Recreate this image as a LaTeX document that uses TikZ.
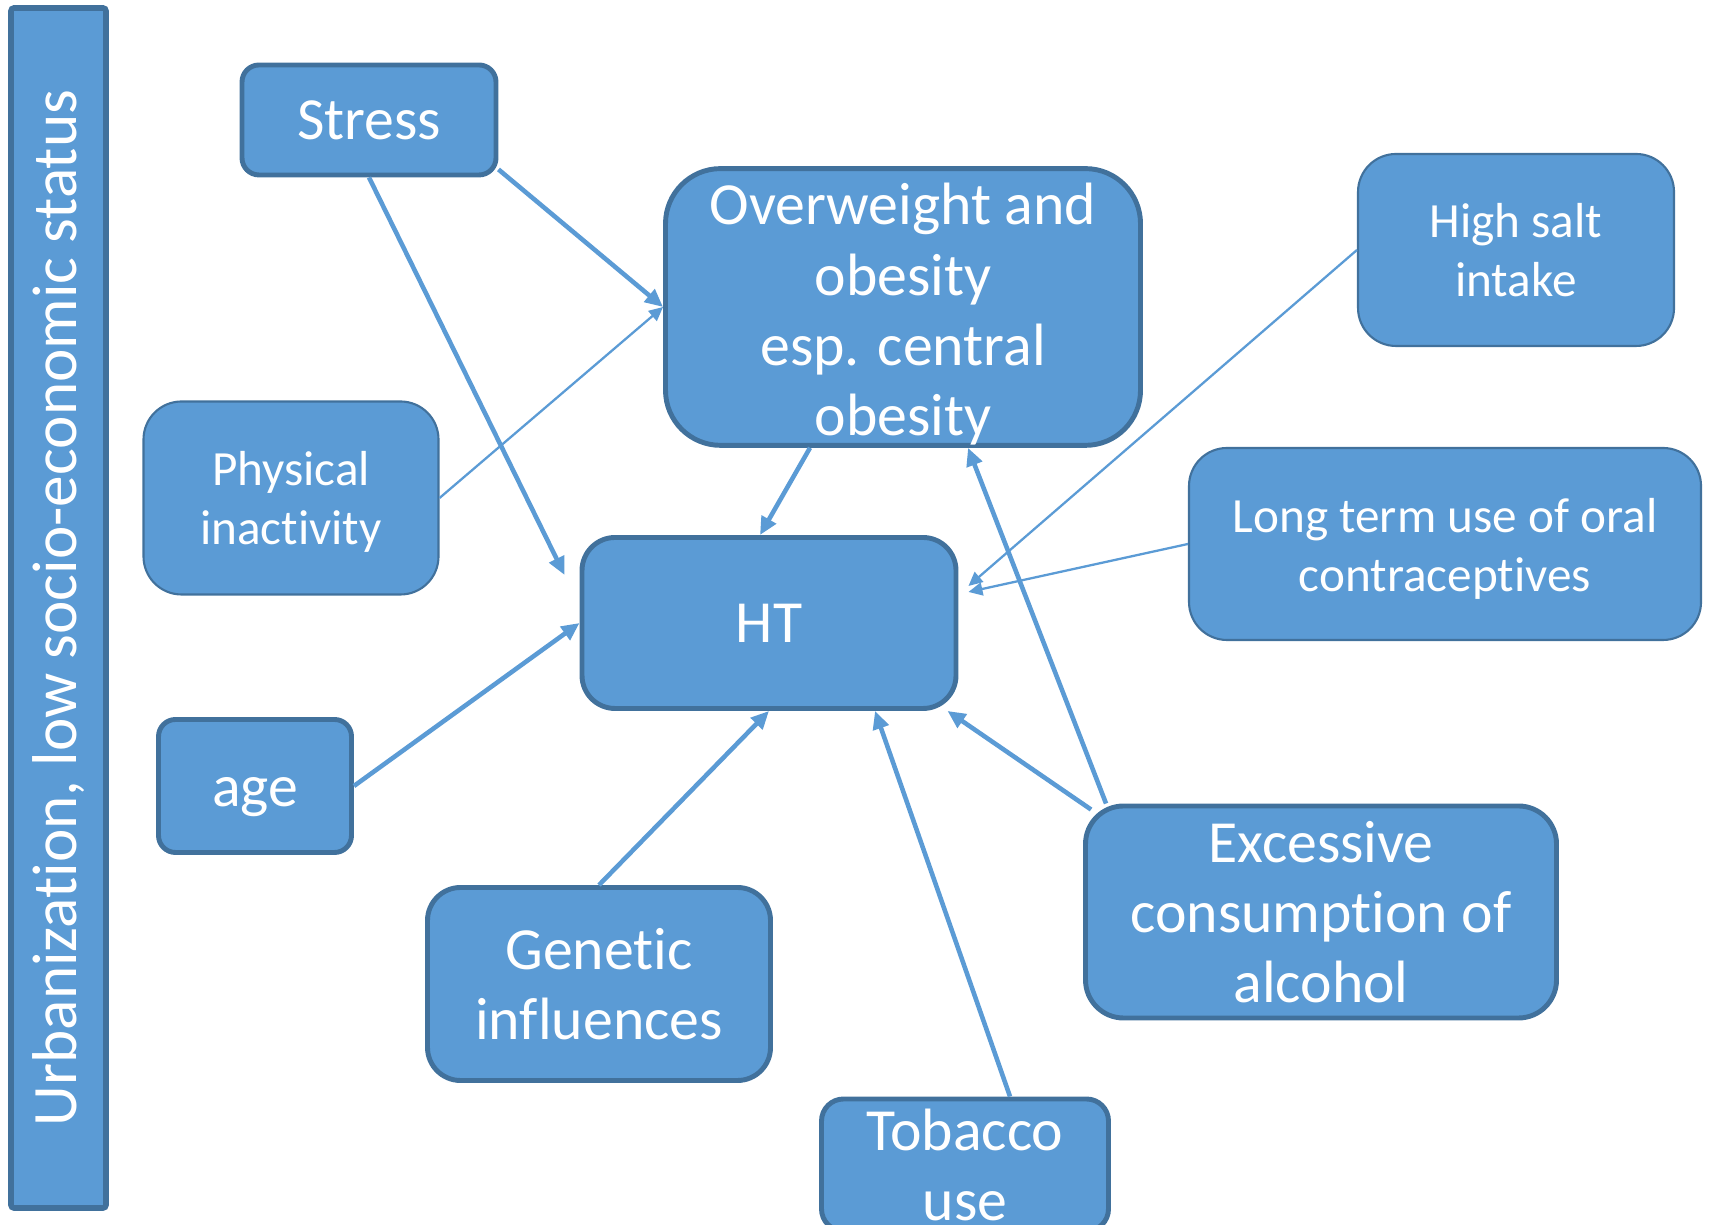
\documentclass[tikz,border=0pt]{standalone}
\usepackage{fontspec}
\setmainfont{Carlito}[RawFeature={-liga;-clig;-dlig;-calt;-rlig}]
\usetikzlibrary{arrows.meta,calc}
\definecolor{boxfill}{HTML}{5B9BD5}
\definecolor{boxline}{HTML}{41719C}
\begin{document}
\begin{tikzpicture}[
 box/.style={draw=boxline, fill=boxfill, line width=1.4pt, text=white, align=center, inner sep=0pt, font=\fontsize{17}{20}\selectfont},
 thinbox/.style={box, line width=0.6pt, font=\fontsize{14}{17}\selectfont},
 link/.style={draw=boxfill, line width=1.3pt, -{Triangle[length=0.18cm,width=0.16cm]}},
 thinlink/.style={draw=boxfill, line width=0.65pt, -{Triangle[length=0.14cm,width=0.13cm]}}
]
 \useasboundingbox (0,0) rectangle (17.1,12.25);

 \node[box, line width=1.6pt, rotate=90, rounded corners=0.03cm, minimum width=12.0cm, minimum height=0.95cm, font=\fontsize{18}{21}\selectfont] (urban) at (0.585,6.17) {Urbanization, low socio-economic status};

 \node[box, minimum width=2.54cm, minimum height=1.10cm, rounded corners=0.17cm] (stress) at (3.69,11.05) {Stress};
 \node[box, minimum width=4.75cm, minimum height=2.76cm, rounded corners=0.55cm] (ow) at (9.03,9.18) {\rule{0pt}{16pt}Overweight and\\obesity\\esp. central\\obesity};
 \node[thinbox, minimum width=3.16cm, minimum height=1.92cm, rounded corners=0.38cm] (salt) at (15.16,9.75) {High salt\\intake};
 \node[thinbox, minimum width=2.95cm, minimum height=1.93cm, rounded corners=0.38cm] (phys) at (2.91,7.27) {\rule{0pt}{12pt}Physical\\inactivity};
 \node[thinbox, minimum width=5.12cm, minimum height=1.92cm, rounded corners=0.38cm] (long) at (14.45,6.81) {\rule{0pt}{12.5pt}Long term use of oral\\contraceptives};
 \node[box, minimum width=3.74cm, minimum height=1.71cm, rounded corners=0.33cm] (ht) at (7.69,6.02) {HT};
 \node[box, minimum width=1.93cm, minimum height=1.33cm, rounded corners=0.17cm, text height=11.5pt, text depth=0pt] (age) at (2.55,4.39) {age};
 \node[box, minimum width=4.71cm, minimum height=2.12cm, rounded corners=0.38cm] (exc) at (13.21,3.13) {Excessive\\consumption of\\alcohol};
 \node[box, minimum width=3.43cm, minimum height=1.93cm, rounded corners=0.33cm] (gen) at (5.99,2.41) {Genetic\\influences};
 \node[box, minimum width=2.87cm, minimum height=1.32cm, rounded corners=0.22cm] (tob) at (9.65,0.60) {Tobacco\\use};

 \draw[link] (stress.south) -- ($(ht.west)+(-0.15,0.48)$);
 \draw[link] ($(stress.south east)+(0,0.08)$) -- (ow.west);
 \draw[thinlink] (phys.east) -- (ow.west);
 \draw[link] ($(ow.south)+(-0.93,0)$) -- ($(ht.north)+(-0.09,0)$);
 \draw[thinlink] (salt.west) -- ($(ht.east)+(0.10,0.37)$);
 \draw[thinlink] (long.west) -- ($(ht.east)+(0.10,0.31)$);
 \draw[link] (age.east) -- (ht.west);
 \draw[link] (gen.north) -- (ht.south);
 \draw[link] ($(tob.north)+(0.45,0)$) -- ($(ht.south)+(1.06,0)$);
 \draw[link] ($(exc.north west)+(0.08,-0.06)$) -- ($(ht.south east)+(-0.11,0)$);
 \draw[link] ($(exc.north west)+(0.23,0)$) -- ($(ow.south)+(0.65,0)$);
\end{tikzpicture}
\end{document}
